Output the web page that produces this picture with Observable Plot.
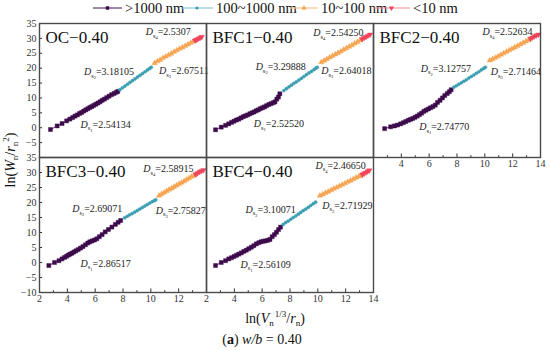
<!DOCTYPE html>
<html><head><meta charset="utf-8">
<script src="https://cdn.jsdelivr.net/npm/d3@7"></script>
<script src="https://cdn.jsdelivr.net/npm/@observablehq/plot@0.6"></script>
<style>
body{margin:0;background:#fff;}
#root{position:relative;width:550px;height:350px;overflow:hidden;background:#fff;font-family:"Liberation Serif","Times New Roman",serif;}
#root svg{position:absolute;}
</style></head><body><div id="root"></div>
<script>
// ---------- categories / labels ----------
const panelNames = ["OC−0.40", "BFC1−0.40", "BFC2−0.40", "BFC3−0.40", "BFC4−0.40"];
const classNames = [">1000 nm", "100~1000 nm", "10~100 nm", "<10 nm"];
const xMajor = [2, 4, 6, 8, 10, 12, 14];
const xMinor = [3, 5, 7, 9, 11, 13];
const yMajor = [-10, -5, 0, 5, 10, 15, 20, 25, 30, 35];

// ---------- data: [ln(Vn^1/3/rn), ln(Wn/rn^2)] ----------
const ocS1 = [[2.79,-0.6],[3.27,0.6],[3.62,1.4],[3.95,2.3],[4.18,2.9],[4.38,3.4],[4.55,3.9],[4.72,4.3],[4.88,4.8],[5.03,5.1],[5.18,5.6],[5.33,6.0],[5.48,6.4],[5.62,6.8],[5.76,7.1],[5.90,7.5],[6.05,7.9],[6.20,8.3],[6.35,8.7],[6.50,9.2],[6.66,9.6],[6.83,10.1],[7.00,10.6],[7.18,11.1],[7.36,11.5],[7.52,11.9],[7.63,12.2]];
const ocS2 = [[7.78,12.8],[7.96,13.4],[8.14,14.0],[8.32,14.6],[8.50,15.2],[8.68,15.8],[8.86,16.4],[9.04,17.0],[9.22,17.6],[9.40,18.2],[9.58,18.8],[9.76,19.4],[9.92,19.9],[10.03,20.3]];
const ocS3 = [[10.27,21.7],[10.47,22.3],[10.67,22.8],[10.87,23.4],[11.07,23.9],[11.27,24.4],[11.47,24.9],[11.67,25.5],[11.87,26.0],[12.07,26.5],[12.27,27.0],[12.47,27.5],[12.67,28.0],[12.87,28.5],[13.06,29.0]];
const ocS4 = [[13.18,29.3],[13.30,29.6],[13.42,29.9],[13.54,30.2],[13.66,30.5]];

const b1S1 = [[2.65,-0.7],[3.06,0.2],[3.37,0.8],[3.60,1.3],[3.80,1.8],[3.98,2.2],[4.15,2.6],[4.32,2.9],[4.48,3.3],[4.64,3.7],[4.80,4.0],[4.96,4.3],[5.12,4.7],[5.27,5.0],[5.42,5.3],[5.57,5.7],[5.72,6.0],[5.87,6.4],[6.02,6.7],[6.17,7.0],[6.32,7.4],[6.48,7.8],[6.64,8.1],[6.80,8.4],[6.92,8.7],[7.05,9.6],[7.17,10.3],[7.27,11.4]];
const b1S2 = [[7.56,12.5],[7.74,13.1],[7.92,13.7],[8.10,14.3],[8.28,14.9],[8.46,15.4],[8.64,16.0],[8.82,16.6],[9.00,17.2],[9.18,17.8],[9.36,18.4],[9.54,18.9],[9.72,19.5],[9.86,20.0],[9.96,20.3]];
const b1S3 = [[10.25,22.0],[10.45,22.5],[10.65,23.0],[10.85,23.6],[11.05,24.1],[11.25,24.6],[11.45,25.1],[11.65,25.6],[11.85,26.2],[12.05,26.7],[12.25,27.2],[12.45,27.7],[12.65,28.3],[12.85,28.8],[13.05,29.4]];
const b1S4 = [[13.18,29.8],[13.32,30.2],[13.46,30.5],[13.60,30.9],[13.75,31.3]];

const b2S1 = [[2.80,-0.3],[3.23,0.3],[3.50,0.6],[3.72,0.9],[3.95,1.3],[4.15,1.7],[4.32,2.1],[4.50,2.5],[4.66,2.8],[4.82,3.1],[4.98,3.5],[5.14,3.9],[5.30,4.4],[5.46,4.9],[5.62,5.5],[5.78,5.9],[5.94,6.3],[6.10,6.7],[6.27,7.1],[6.44,7.6],[6.60,8.5],[6.78,9.2],[6.95,10.0],[7.12,10.8],[7.30,11.5],[7.45,12.1],[7.58,12.75]];
const b2S2 = [[7.77,13.6],[7.95,14.1],[8.13,14.6],[8.31,15.1],[8.49,15.6],[8.67,16.1],[8.85,16.7],[9.03,17.2],[9.21,17.7],[9.39,18.3],[9.57,18.8],[9.75,19.4],[9.92,19.9],[10.04,20.3]];
const b2S3 = [[10.35,22.6],[10.55,23.0],[10.75,23.5],[10.95,24.0],[11.15,24.5],[11.35,25.0],[11.55,25.5],[11.75,26.0],[11.95,26.5],[12.15,27.0],[12.35,27.5],[12.55,28.0],[12.75,28.5],[12.95,29.0],[13.15,29.5]];
const b2S4 = [[13.28,29.9],[13.42,30.3],[13.56,30.7],[13.70,31.0],[13.85,31.3]];

const b3S1 = [[2.67,-1.0],[3.08,0.0],[3.40,0.6],[3.62,1.2],[3.80,1.7],[3.95,2.1],[4.08,2.5],[4.20,2.8],[4.33,3.1],[4.47,3.5],[4.62,3.9],[4.78,4.3],[4.95,4.8],[5.12,5.3],[5.30,5.9],[5.47,6.5],[5.62,6.9],[5.78,7.2],[5.95,7.5],[6.12,7.9],[6.30,8.6],[6.50,9.3],[6.72,10.2],[6.95,11.0],[7.20,11.8],[7.45,12.7],[7.65,13.4],[7.83,14.0]];
const b3S2 = [[8.12,14.9],[8.30,15.4],[8.48,15.9],[8.66,16.3],[8.84,16.8],[9.02,17.3],[9.20,17.8],[9.38,18.3],[9.56,18.8],[9.74,19.3],[9.92,19.8],[10.10,20.3],[10.25,20.6],[10.35,20.9]];
const b3S3 = [[10.59,22.3],[10.77,22.8],[10.95,23.3],[11.13,23.8],[11.31,24.3],[11.49,24.7],[11.67,25.2],[11.85,25.7],[12.03,26.2],[12.21,26.6],[12.39,27.1],[12.57,27.6],[12.75,28.1],[12.93,28.6],[13.10,29.0]];
const b3S4 = [[13.22,29.4],[13.36,29.8],[13.50,30.2],[13.64,30.5],[13.78,30.8]];

const b4S1 = [[2.65,-1.0],[3.06,0.0],[3.37,0.6],[3.60,1.2],[3.80,1.6],[3.98,2.0],[4.15,2.4],[4.32,2.8],[4.50,3.2],[4.68,3.7],[4.86,4.1],[5.04,4.6],[5.22,5.1],[5.40,5.6],[5.58,6.2],[5.76,6.6],[5.92,6.9],[6.08,7.1],[6.24,7.2],[6.40,7.4],[6.56,7.7],[6.72,8.6],[6.88,9.3],[7.03,10.1],[7.18,11.0],[7.32,11.8]];
const b4S2 = [[7.51,12.7],[7.69,13.3],[7.87,13.8],[8.05,14.4],[8.23,15.0],[8.41,15.5],[8.59,16.1],[8.77,16.7],[8.95,17.3],[9.13,17.8],[9.31,18.4],[9.49,19.0],[9.67,19.6],[9.84,20.1]];
const b4S3 = [[10.15,22.3],[10.35,22.7],[10.55,23.2],[10.75,23.6],[10.95,24.1],[11.15,24.6],[11.35,25.0],[11.55,25.5],[11.75,25.9],[11.95,26.4],[12.15,26.9],[12.35,27.3],[12.55,27.8],[12.75,28.3],[12.95,28.7],[13.07,29.0]];
const b4S4 = [[13.20,29.3],[13.33,29.7],[13.46,30.0],[13.58,30.4],[13.70,30.7]];

// fractal dimensions D_s1..D_s4 per panel
const ocD = ["2.54134", "3.18105", "2.67511", "2.5307"];
const b1D = ["2.52520", "3.29888", "2.64018", "2.54250"];
const b2D = ["2.74770", "3.12757", "2.71464", "2.52634"];
const b3D = ["2.86517", "2.69071", "2.75827", "2.58915"];
const b4D = ["2.56109", "3.10071", "2.71929", "2.46650"];

// annotation anchors (data units)
const ocDAt = [[4.95,1.1],[5.19,18.7],[10.58,19.0],[9.63,32.1]];
const b1DAt = [[5.40,1.3],[5.53,20.3],[10.25,19.0],[9.67,31.8]];
const b2DAt = [[5.28,0.2],[5.40,19.8],[10.43,18.7],[9.83,32.1]];
const b3DAt = [[4.95,-0.4],[4.35,17.9],[10.35,17.3],[9.46,31.2]];
const b4DAt = [[4.45,-0.7],[4.81,17.6],[10.32,19.0],[9.84,32.3]];

// ---------- styles ----------
const FONT = "'Liberation Serif','Times New Roman',serif";
const markColors = ["#3d0b4c", "#3a9eb0", "#f6a552", "#f0445a"];
const lineColors = ["#5e3a6e", "#86cbd5", "#f8c58c", "#f48a95"];
const sqrt3 = Math.sqrt(3);
const triangleDown = {draw(ctx, size) { const y = -Math.sqrt(size / (sqrt3 * 3)); ctx.moveTo(0, -y * 2); ctx.lineTo(-sqrt3 * y, y); ctx.lineTo(sqrt3 * y, y); ctx.closePath(); }};
const symbols = ["square", "circle", "triangle", triangleDown];
const radii = [2.3, 1.6, 2.0, 2.0];

const colLeft = [39, 206, 373];
const rowTop = [23, 157];
const innerW = 167, innerH = [134, 135];
const ML = 30, MR = 8, MT = 8, MB = 18;
const root = document.getElementById("root");

const panels = [
  {name: panelNames[0], segs: [ocS1, ocS2, ocS3, ocS4], D: ocD, at: ocDAt, col: 0, row: 0, xt: null, yt: yMajor.filter(v => v > -10)},
  {name: panelNames[1], segs: [b1S1, b1S2, b1S3, b1S4], D: b1D, at: b1DAt, col: 1, row: 0, xt: null, yt: null},
  {name: panelNames[2], segs: [b2S1, b2S2, b2S3, b2S4], D: b2D, at: b2DAt, col: 2, row: 0, xt: xMajor.filter(v => v > 2), yt: null},
  {name: panelNames[3], segs: [b3S1, b3S2, b3S3, b3S4], D: b3D, at: b3DAt, col: 0, row: 1, xt: xMajor.filter(v => v < 14), yt: yMajor},
  {name: panelNames[4], segs: [b4S1, b4S2, b4S3, b4S4], D: b4D, at: b4DAt, col: 1, row: 1, xt: xMajor, yt: null}
];

function fixSub(svg) {
  d3.select(svg).selectAll("text").each(function() {
    const m = /^D_(\d)=(.*)$/.exec(this.textContent);
    if (!m) return;
    const t = d3.select(this);
    t.text(null);
    t.append("tspan").attr("font-style", "italic").text("D");
    t.append("tspan").attr("font-size", 6.5).attr("dy", 2.5).text("s");
    t.append("tspan").attr("font-size", 4.5).attr("dy", 1.5).text(m[1]);
    t.append("tspan").attr("dy", -4).text("=" + m[2]);
  });
}

for (const p of panels) {
  const h = innerH[p.row];
  const marks = [];
  p.segs.forEach((seg, i) => marks.push(Plot.line(seg, {x: d => d[0], y: d => d[1], stroke: lineColors[i], strokeWidth: 1})));
  p.segs.forEach((seg, i) => marks.push(Plot.dot(seg, {x: d => d[0], y: d => d[1], symbol: symbols[i], r: radii[i], fill: markColors[i], stroke: markColors[i], strokeWidth: 0.4})));
  marks.push(Plot.text(p.D, {
    x: (d, i) => p.at[i][0], y: (d, i) => p.at[i][1],
    text: (d, i) => `D_${i + 1}=${d}`, textAnchor: "start", fontSize: 10, fill: "#222", fontFamily: FONT
  }));
  marks.push(Plot.text([p.name], {frameAnchor: "top-left", dx: 6, dy: 7, lineAnchor: "top", textAnchor: "start", fontSize: 17, fill: "#111", fontFamily: FONT}));
  if (p.xt) {
    marks.push(Plot.ruleX(xMajor, {x: d => d, y1: -10, y2: -8.8, stroke: "#333"}));
    marks.push(Plot.ruleX(xMinor, {x: d => d, y1: -10, y2: -9.4, stroke: "#333"}));
    marks.push(Plot.axisX(p.xt, {tickSize: 0, tickPadding: 2, fontSize: 10, label: null, fill: "#333", fontFamily: FONT}));
  }
  if (p.yt) {
    marks.push(Plot.ruleY(yMajor, {y: d => d, x1: 2, x2: 2.22, stroke: "#333"}));
    marks.push(Plot.axisY(p.yt, {tickSize: 0, tickPadding: 3, fontSize: 10, label: null, fill: "#333", fontFamily: FONT}));
  }
  marks.push(Plot.frame({stroke: "#4a4a4a", strokeWidth: 1.4}));
  const svg = Plot.plot({
    width: ML + innerW + MR, height: MT + h + MB,
    marginLeft: ML, marginRight: MR, marginTop: MT, marginBottom: MB,
    x: {domain: [2, 14], axis: null}, y: {domain: [-10, 35], axis: null},
    style: {background: "transparent", overflow: "visible", fontFamily: FONT, fontSize: "10px", color: "#333"},
    marks
  });
  fixSub(svg);
  svg.style.left = (colLeft[p.col] - ML) + "px";
  svg.style.top = (rowTop[p.row] - MT) + "px";
  root.appendChild(svg);
}

// ---------- legend, axis titles, caption ----------
const ov = d3.select(root).append("svg").attr("width", 550).attr("height", 350)
  .style("left", "0px").style("top", "0px").style("overflow", "visible")
  .attr("font-family", FONT);
const legendAt = [[93, 122, 125], [181, 213, 216], [290, 318, 321], [373, 410, 413]];
const ly = 8;
classNames.forEach((name, i) => {
  const [a, b, t] = legendAt[i];
  ov.append("line").attr("x1", a).attr("x2", b).attr("y1", ly).attr("y2", ly).attr("stroke", lineColors[i]).attr("stroke-width", 1.2);
  const symType = [d3.symbolSquare, d3.symbolCircle, d3.symbolTriangle, triangleDown][i];
  ov.append("path").attr("d", d3.symbol(symType, [12, 8, 12, 12][i])()).attr("transform", `translate(${(a + b) / 2},${ly})`).attr("fill", markColors[i]);
  ov.append("text").attr("x", t).attr("y", ly).attr("dy", "0.35em").attr("font-size", 14.5).attr("fill", "#111").text(name);
});

// y title
const yt = ov.append("text").attr("transform", "translate(15,160) rotate(-90)").attr("text-anchor", "middle").attr("font-size", 14).attr("fill", "#111");
yt.append("tspan").text("ln(");
yt.append("tspan").attr("font-style", "italic").text("W");
yt.append("tspan").attr("font-size", 9).attr("dy", 3).text("n");
yt.append("tspan").attr("dy", -3).text("/");
yt.append("tspan").attr("font-style", "italic").text("r");
yt.append("tspan").attr("font-size", 9).attr("dy", 3).text("n");
yt.append("tspan").attr("font-size", 9).attr("dy", -9).text("2");
yt.append("tspan").attr("dy", 6).text(")");

// x title
const xt = ov.append("text").attr("x", 275).attr("y", 323).attr("text-anchor", "middle").attr("font-size", 14).attr("fill", "#111");
xt.append("tspan").text("ln(");
xt.append("tspan").attr("font-style", "italic").text("V");
xt.append("tspan").attr("font-size", 9).attr("dy", 3).text("n");
xt.append("tspan").attr("font-size", 9).attr("dy", -9).attr("dx", 1).text("1/3");
xt.append("tspan").attr("dy", 6).text("/");
xt.append("tspan").attr("font-style", "italic").text("r");
xt.append("tspan").attr("font-size", 9).attr("dy", 3).text("n");
xt.append("tspan").attr("dy", -3).text(")");

// caption
const cap = ov.append("text").attr("x", 262).attr("y", 344).attr("text-anchor", "middle").attr("font-size", 14).attr("fill", "#111");
cap.append("tspan").text("(");
cap.append("tspan").attr("font-weight", "bold").text("a");
cap.append("tspan").text(") ");
cap.append("tspan").attr("font-style", "italic").text("w/b");
cap.append("tspan").text(" = 0.40");
</script></body></html>
